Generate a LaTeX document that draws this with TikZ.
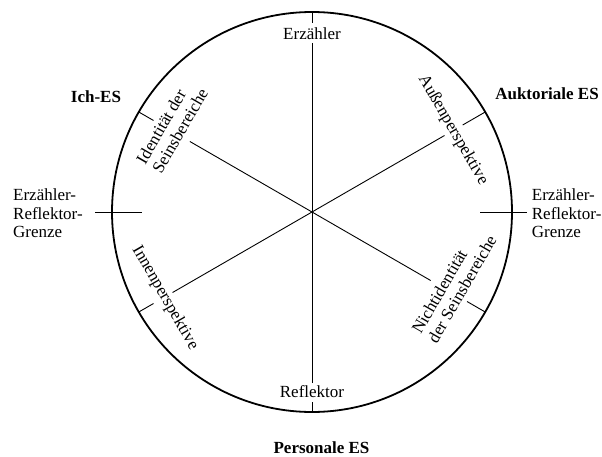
\documentclass[tikz,border=0pt]{standalone}
\usepackage{fontspec}
\setmainfont{Liberation Serif}
\begin{document}
\begin{tikzpicture}[x=1pt,y=1pt,
  lab/.style={font=\fontsize{17}{18.5}\selectfont, inner sep=0pt},
  es/.style={font=\fontsize{17}{18.5}\selectfont\bfseries, inner sep=0pt},
  ring/.style={line width=1.8pt},
  ray/.style={line width=0.9pt}]
\useasboundingbox (0,0) rectangle (602,456);
\begin{scope}[shift={(312,244)}]
  \coordinate (C) at (0,0);
  \draw[ring] (C) circle (200);
  % vertical axis
  \coordinate (t0) at (90:200);
  \coordinate (t1) at (90:189);
  \coordinate (t2) at (90:169);
  \node[lab, anchor=base] (erz) at (0,172.5) {Erzähler};
  \draw[ray] (t0) -- (t1);
  \draw[ray] (t2) -- (C);
  \coordinate (b0) at (270:200);
  \coordinate (b1) at (270:190);
  \coordinate (b2) at (270:171);
  \node[lab, anchor=base] (ref) at (0,-185.7) {Reflektor};
  \draw[ray] (b0) -- (b1);
  \draw[ray] (b2) -- (C);
  % horizontal ticks
  \coordinate (l0) at (-217,0);
  \coordinate (l1) at (-170,0);
  \draw[ray] (l0) -- (l1);
  \coordinate (r0) at (168,0);
  \coordinate (r1) at (215,0);
  \draw[ray] (r0) -- (r1);
  % ray 150
  \coordinate (a1) at (150:141);
  \coordinate (a2) at (150:183);
  \coordinate (a3) at (150:200);
  \draw[ray] (C) -- (a1);
  \draw[ray] (a2) -- (a3);
  \node[lab, rotate=60, align=left] (ident) at (-140,86) {Identität der\\Seinsbereiche};
  % ray 30
  \coordinate (c1) at (30:153);
  \coordinate (c2) at (30:174);
  \coordinate (c3) at (30:200);
  \draw[ray] (C) -- (c1);
  \draw[ray] (c2) -- (c3);
  \node[lab, rotate=-60] (aussen) at (141,82) {Außenperspektive};
  % ray 210
  \coordinate (d1) at (210:161);
  \coordinate (d2) at (210:183);
  \coordinate (d3) at (210:200);
  \draw[ray] (C) -- (d1);
  \draw[ray] (d2) -- (d3);
  \node[lab, rotate=-60] (innen) at (-147,-86) {Innenperspektive};
  % ray 330
  \coordinate (e1) at (330:137);
  \coordinate (e2) at (330:179);
  \coordinate (e3) at (330:200);
  \draw[ray] (C) -- (e1);
  \draw[ray] (e2) -- (e3);
  \node[lab, rotate=60, align=left] (nicht) at (142,-72.5) {Nichtidentität\\der Seinsbereiche};
\end{scope}
% outer labels
\node[lab, anchor=north west, align=left] (grenzeL) at (13,267) {Erzähler-\\Reflektor-\\Grenze};
\node[lab, anchor=north west, align=left] (grenzeR) at (531.7,267) {Erzähler-\\Reflektor-\\Grenze};
\node[es, anchor=base] (ich) at (96,353.3) {Ich-ES};
\node[es, anchor=base] (auk) at (547,356) {Auktoriale ES};
\node[es, anchor=base] (pers) at (321.5,2.7) {Personale ES};
\end{tikzpicture}
\end{document}
